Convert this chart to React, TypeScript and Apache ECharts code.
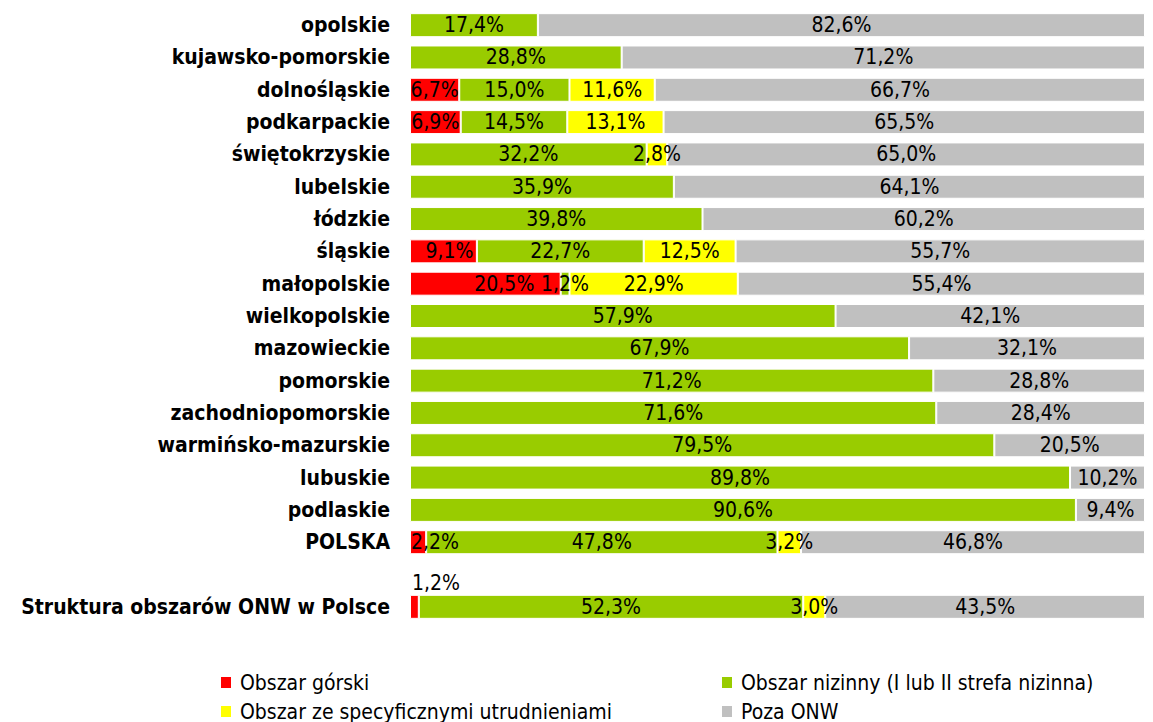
import React, { useEffect, useRef } from "react";
import * as echarts from "echarts";

const categories = [
  "opolskie",
  "kujawsko-pomorskie",
  "dolnośląskie",
  "podkarpackie",
  "świętokrzyskie",
  "lubelskie",
  "łódzkie",
  "śląskie",
  "małopolskie",
  "wielkopolskie",
  "mazowieckie",
  "pomorskie",
  "zachodniopomorskie",
  "warmińsko-mazurskie",
  "lubuskie",
  "podlaskie",
  "POLSKA",
  "",
  "Struktura obszarów ONW w Polsce",
];

const seriesNames = [
  "Obszar górski",
  "Obszar nizinny (I lub II strefa nizinna)",
  "Obszar ze specyficznymi utrudnieniami",
  "Poza ONW",
];

const gorski = [null, null, 6.7, 6.9, null, null, null, 9.1, 20.5, null, null, null, null, null, null, null, 2.2, null, 1.2];
const nizinny = [17.4, 28.8, 15.0, 14.5, 32.2, 35.9, 39.8, 22.7, 1.2, 57.9, 67.9, 71.2, 71.6, 79.5, 89.8, 90.6, 47.8, null, 52.3];
const specyficzne = [null, null, 11.6, 13.1, 2.8, null, null, 12.5, 22.9, null, null, null, null, null, null, null, 3.2, null, 3.0];
const pozaOnw = [82.6, 71.2, 66.7, 65.5, 65.0, 64.1, 60.2, 55.7, 55.4, 42.1, 32.1, 28.8, 28.4, 20.5, 10.2, 9.4, 46.8, null, 43.5];

const colors = ["#FF0000", "#99CC00", "#FFFF00", "#C0C0C0"];

const FONT = "'DejaVu Sans Condensed', 'DejaVu Sans', sans-serif";

const fmt = (p: any) => {
  const v = typeof p.value === "number" ? p.value : Number(p.value);
  return v.toFixed(1).replace(".", ",") + "%";
};

export default function App() {
  const ref = useRef<HTMLDivElement>(null);
  useEffect(() => {
    if (!ref.current) return;
    const chart = echarts.init(ref.current, null, { renderer: "svg" });
    const dataSets = [gorski, nizinny, specyficzne, pozaOnw];

    const labelBase = {
      show: true,
      position: "inside",
      color: "#000",
      fontSize: 21,
      fontFamily: FONT,
      formatter: fmt,
    };

    const series = dataSets.map((arr, si) => ({
      name: seriesNames[si],
      type: "bar",
      stack: "total",
      barWidth: 24,
      itemStyle: { color: colors[si], borderColor: "#fff", borderWidth: 1 },
      label: labelBase,
      data: arr.map((v, i) => {
        if (v === null) return "-";
        const item: any = { value: v };
        if (si === 0 && categories[i] === "Struktura obszarów ONW w Polsce") {
          item.label = { position: [2, -1], align: "left", verticalAlign: "bottom" };
        } else if (si === 0 && categories[i] === "POLSKA") {
          item.label = { position: [1, "50%"], align: "left", verticalAlign: "middle" };
        } else if (si === 0 && categories[i] === "małopolskie") {
          item.label = { offset: [19, 0] };
        } else if (si === 0 && categories[i] === "śląskie") {
          item.label = { offset: [6, 0] };
        }
        return item;
      }),
    }));

    const legendBase = {
      padding: 0,
      icon: "rect",
      itemWidth: 12,
      itemHeight: 13,
      textStyle: { fontSize: 21, fontFamily: FONT, color: "#000", padding: [0, 0, 0, 3] },
    };

    chart.setOption({
      animation: false,
      color: colors,
      grid: { left: 410, right: 8, top: 9, height: 614 },
      xAxis: { type: "value", min: 0, max: 100, show: false },
      yAxis: {
        type: "category",
        data: categories,
        inverse: true,
        axisLine: { show: false },
        axisTick: { show: false },
        axisLabel: {
          margin: 20,
          color: "#000",
          fontWeight: "bold",
          fontSize: 21,
          fontFamily: FONT,
        },
      },
      legend: [
        { ...legendBase, data: [seriesNames[0]], left: 219, top: 672 },
        { ...legendBase, data: [seriesNames[1]], left: 720, top: 672 },
        { ...legendBase, data: [seriesNames[2]], left: 219, top: 701 },
        { ...legendBase, data: [seriesNames[3]], left: 720, top: 701 },
      ],
      series,
    });
    return () => chart.dispose();
  }, []);
  return (
    <div
      ref={ref}
      style={{ position: "fixed", left: 0, top: 0, width: 1153, height: 722, background: "#fff" }}
    />
  );
}
